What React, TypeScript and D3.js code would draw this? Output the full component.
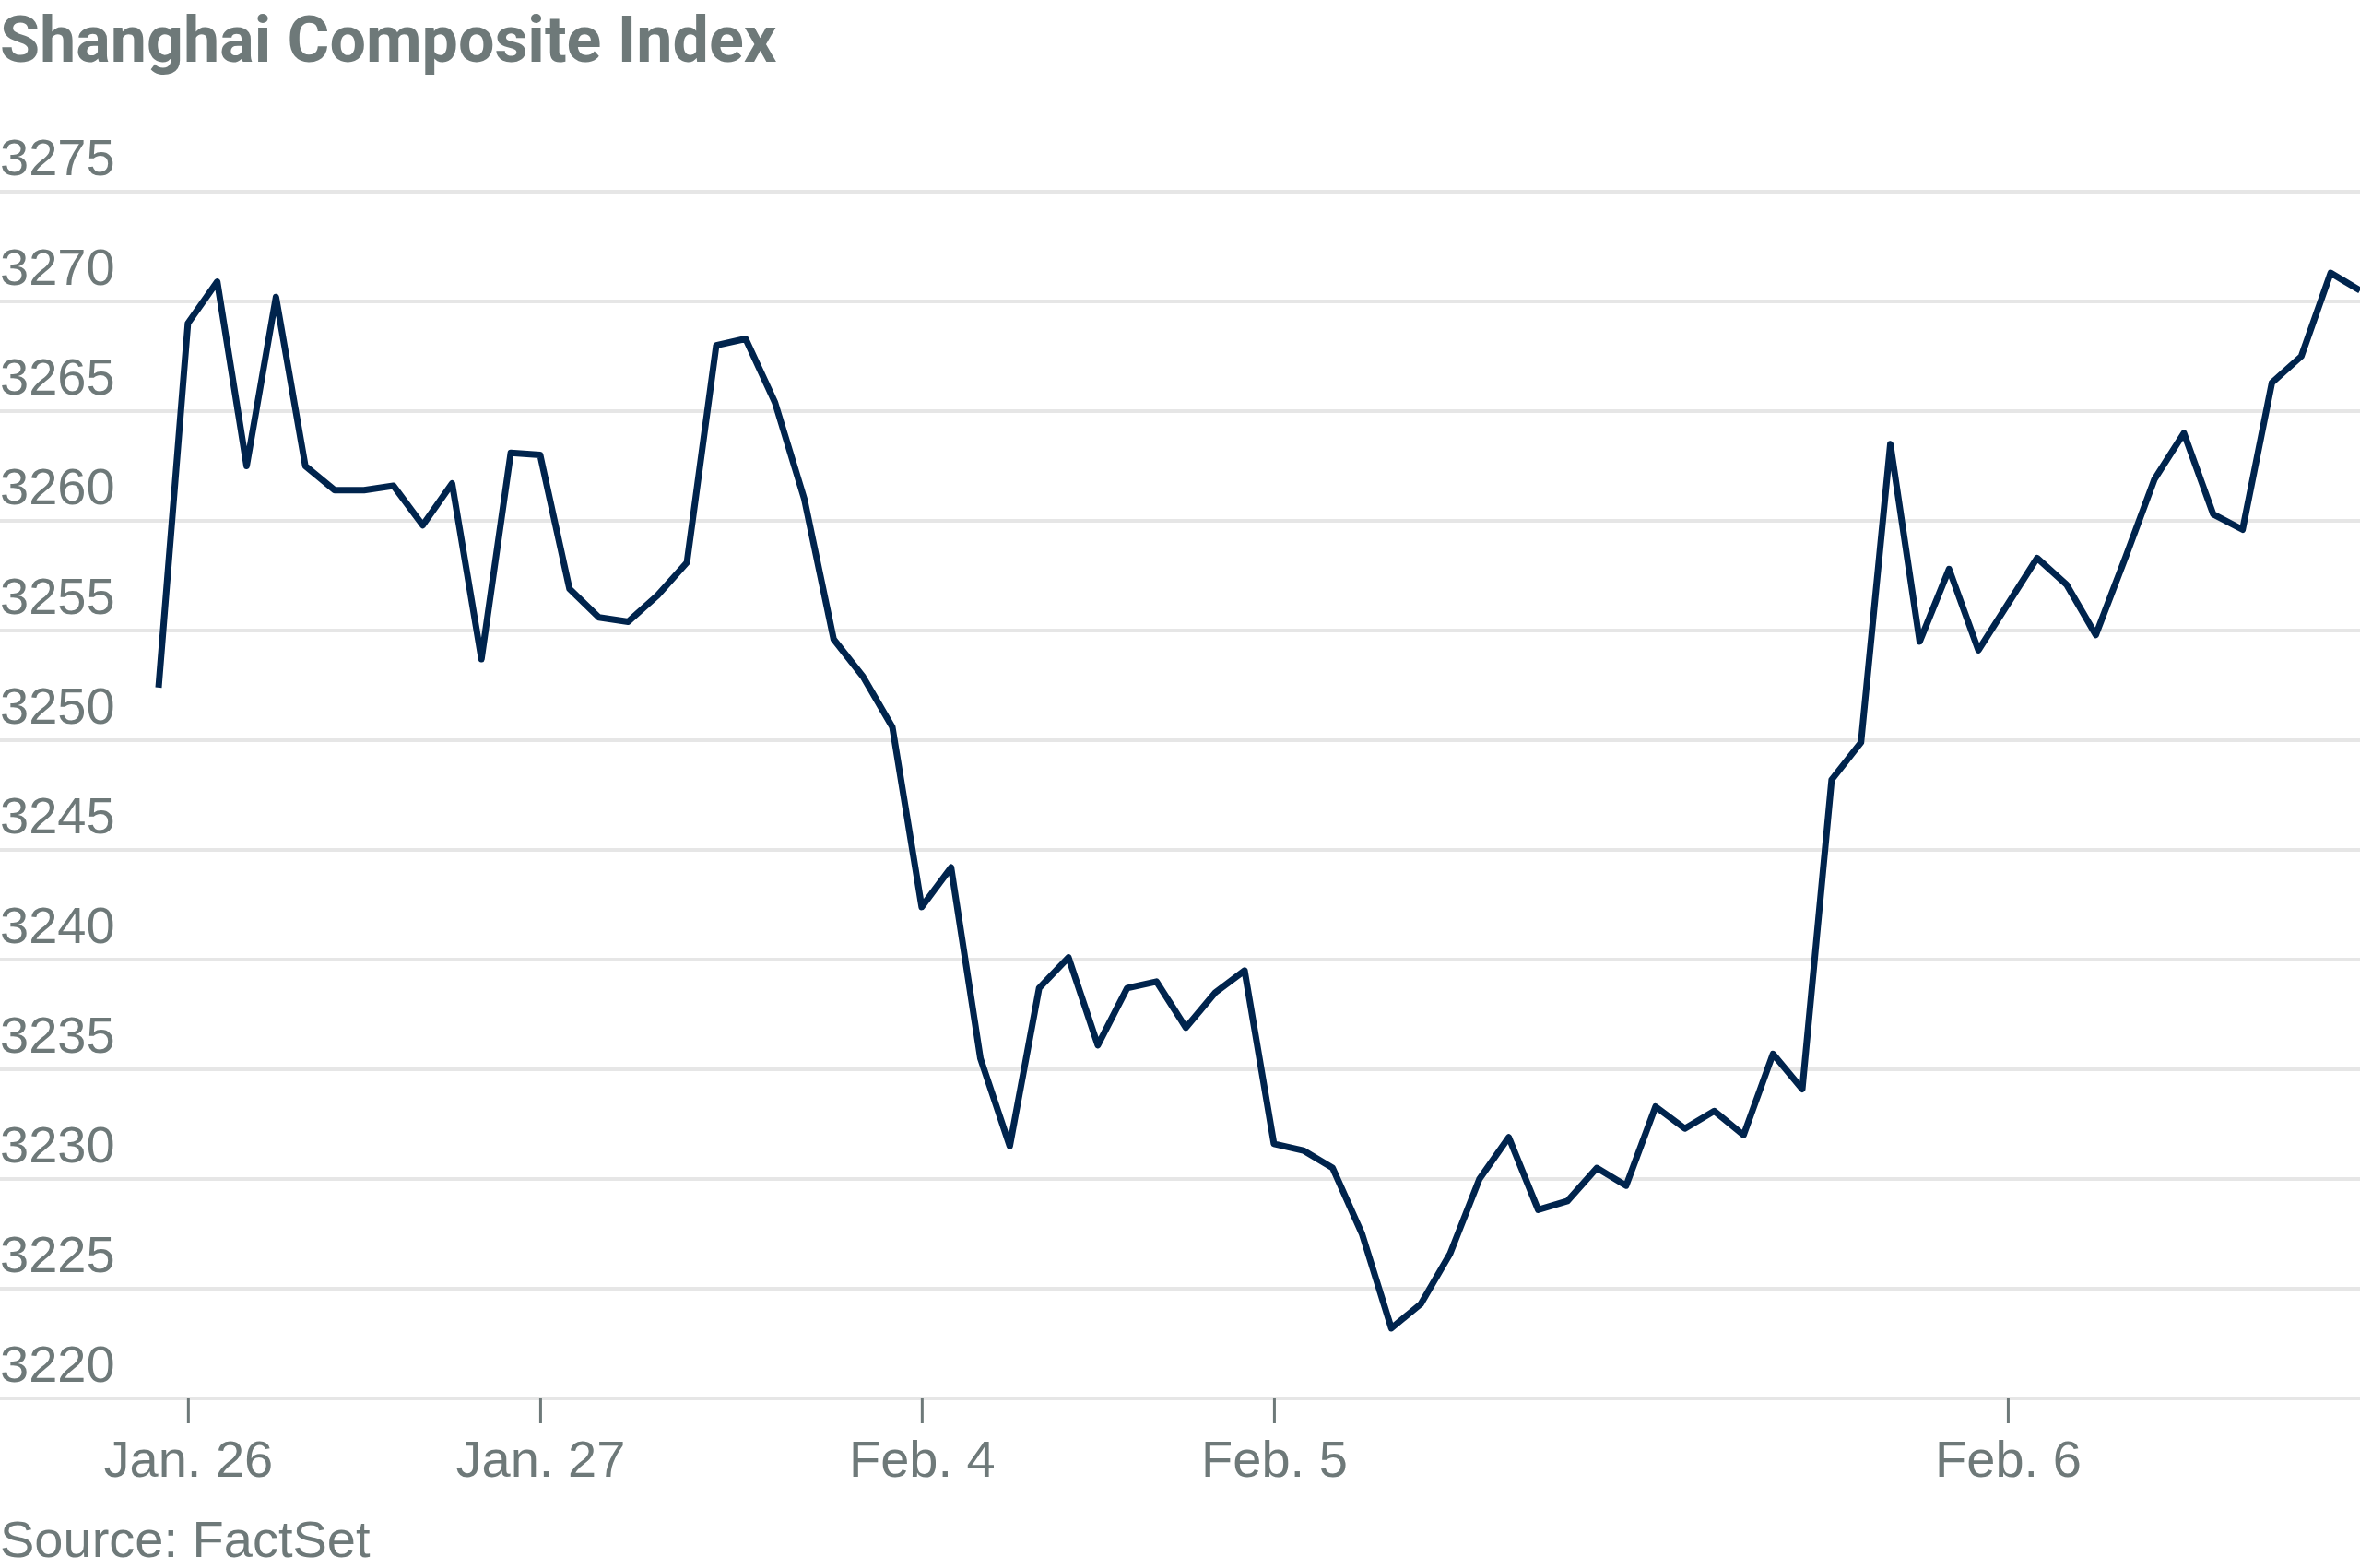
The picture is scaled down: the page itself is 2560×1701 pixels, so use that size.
import React, { useEffect, useRef } from 'react';
import * as d3 from 'd3';

// index close values (one per intraday bar)
const closes = [
  3252.4, 3269.0, 3270.9, 3262.5, 3270.2, 3262.5, 3261.4, 3261.4, 3261.6, 3259.8,
  3261.7, 3253.7, 3263.1, 3263.0, 3256.9, 3255.6, 3255.4, 3256.6, 3258.1, 3268.0,
  3268.3, 3265.4, 3261.0, 3254.6, 3252.9, 3250.6, 3242.4, 3244.2, 3235.5, 3231.5,
  3238.7, 3240.1, 3236.1, 3238.7, 3239.0, 3236.9, 3238.5, 3239.5, 3231.6, 3231.3,
  3230.5, 3227.5, 3223.2, 3224.3, 3226.6, 3230.0, 3231.9, 3228.6, 3229.0, 3230.5,
  3229.7, 3233.3, 3232.3, 3233.1, 3232.0, 3235.7, 3234.1, 3248.2, 3249.9, 3263.5,
  3254.5, 3257.8, 3254.1, 3256.2, 3258.3, 3257.1, 3254.8, 3258.3, 3261.9, 3264.0,
  3260.3, 3259.6, 3266.3, 3267.5, 3271.3, 3270.5,
];

const dayTickIndex = [1, 13, 26, 38, 63];
const dayTickLabels = ['Jan. 26', 'Jan. 27', 'Feb. 4', 'Feb. 5', 'Feb. 6'];

const yTicks = [3220, 3225, 3230, 3235, 3240, 3245, 3250, 3255, 3260, 3265, 3270, 3275];

const W = 2560;
const H = 1701;
const GRAY = '#6e7979';

const App = () => {
  const svgRef = useRef<SVGSVGElement>(null);

  useEffect(() => {
    const svg = d3.select(svgRef.current);
    svg.selectAll('*').remove();

    const x = d3.scaleLinear().domain([0, closes.length - 1]).range([172, W]);
    const y = d3.scaleLinear().domain([3220, 3275]).range([1517, 208]);

    // title
    svg.append('text')
      .attr('x', 0)
      .attr('y', 67)
      .attr('font-family', 'Roboto, sans-serif')
      .attr('font-weight', 700)
      .attr('font-size', 70)
      .attr('fill', GRAY)
      .text('Shanghai Composite Index');

    // horizontal grid + labels
    const grid = svg.append('g');
    grid.selectAll('line')
      .data(yTicks)
      .enter().append('line')
      .attr('x1', 0)
      .attr('x2', W)
      .attr('y1', d => y(d))
      .attr('y2', d => y(d))
      .attr('stroke', '#e6e6e6')
      .attr('stroke-width', 4);

    grid.selectAll('text')
      .data(yTicks)
      .enter().append('text')
      .attr('x', 0)
      .attr('y', d => y(d) - 18)
      .attr('font-family', '"Liberation Sans", Arial, sans-serif')
      .attr('font-size', 56)
      .attr('fill', GRAY)
      .text(d => d);

    // x axis ticks
    const xAxis = svg.append('g')
      .attr('transform', `translate(0,${y(3220)})`)
      .call(d3.axisBottom(x)
        .tickValues(dayTickIndex)
        .tickFormat((d, i) => dayTickLabels[i])
        .tickSize(27)
        .tickPadding(58));
    xAxis.select('.domain').remove();
    xAxis.selectAll('line')
      .attr('stroke', GRAY)
      .attr('stroke-width', 3);
    xAxis.selectAll('text')
      .attr('font-family', '"Liberation Sans", Arial, sans-serif')
      .attr('font-size', 56)
      .attr('fill', GRAY)
      .attr('dy', null)
      .attr('y', 85);

    // the line
    const line = d3.line<number>()
      .x((d, i) => x(i))
      .y(d => y(d));

    svg.append('path')
      .datum(closes)
      .attr('fill', 'none')
      .attr('stroke', '#00244d')
      .attr('stroke-width', 7)
      .attr('stroke-linejoin', 'round')
      .attr('d', line);

    // source
    svg.append('text')
      .attr('x', 0)
      .attr('y', 1689)
      .attr('font-family', '"Liberation Sans", Arial, sans-serif')
      .attr('font-size', 56)
      .attr('fill', GRAY)
      .text('Source: FactSet');
  }, []);

  return (
    <svg
      ref={svgRef}
      width={W}
      height={H}
      style={{ position: 'absolute', top: 0, left: 0, background: '#fff' }}
    />
  );
};

export default App;
